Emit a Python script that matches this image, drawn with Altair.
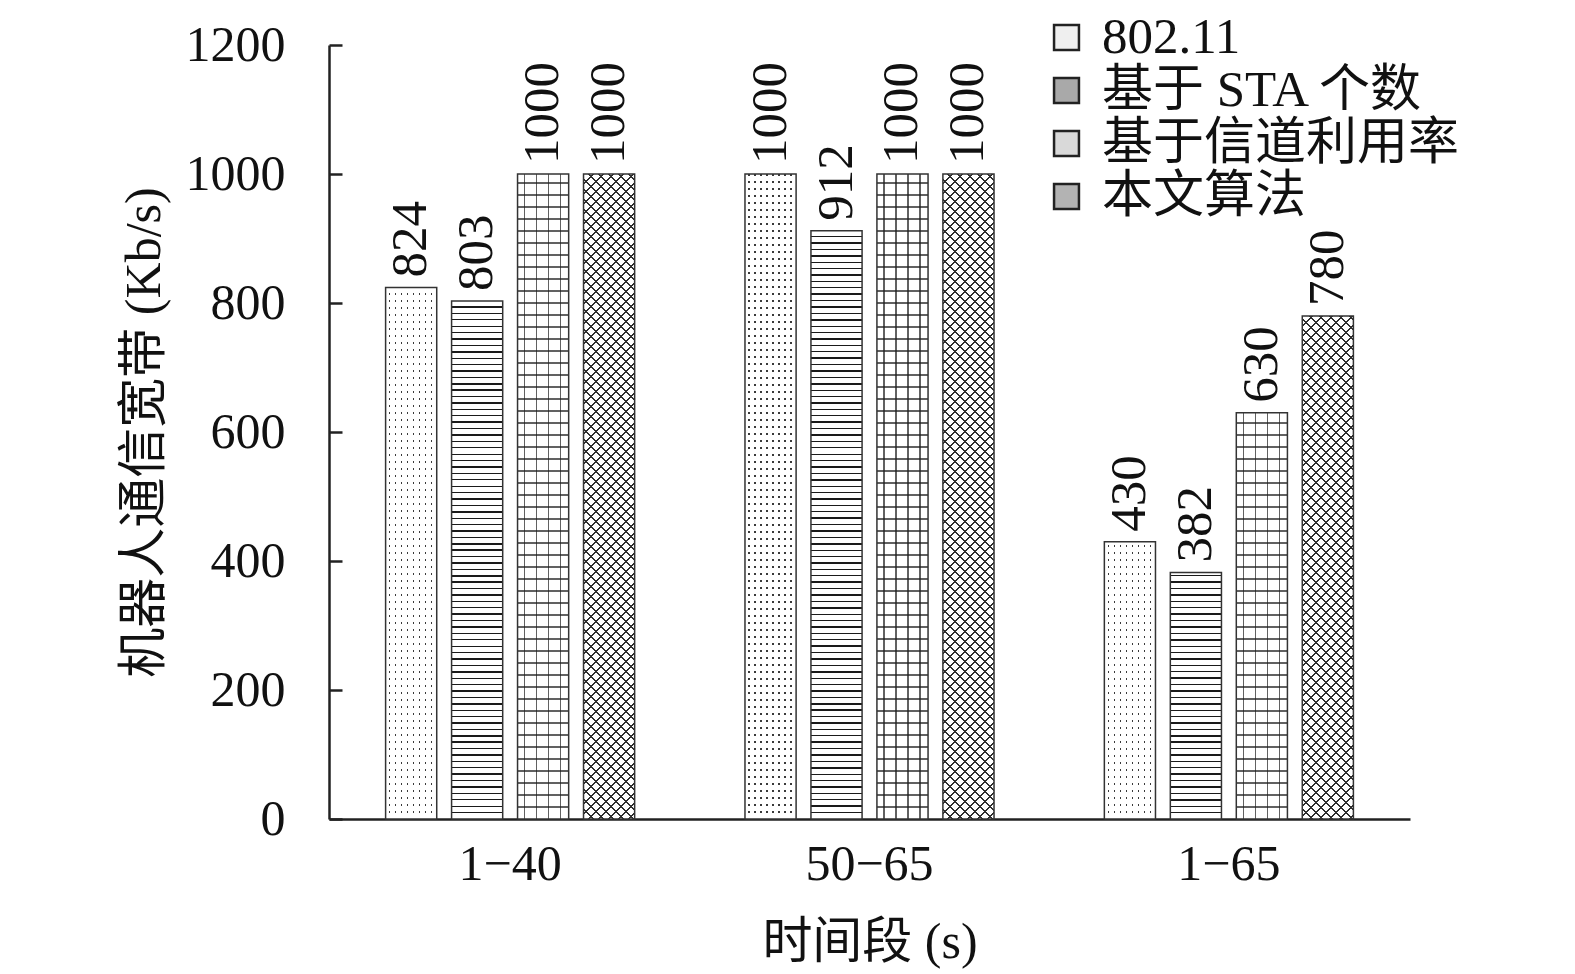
import altair as alt
import pandas as pd

groups = ["1\u221240", "50\u221265", "1\u221265"]
series = ["802.11", "基于 STA 个数", "基于信道利用率", "本文算法"]
v_80211 = [824, 1000, 430]
v_sta = [803, 912, 382]
v_chan = [1000, 1000, 630]
v_ours = [1000, 1000, 780]
y_ticks = [0, 200, 400, 600, 800, 1000, 1200]
legend_fills = ["#efefef", "#a9a9a9", "#d9d9d9", "#b3b3b3"]

rows = []
for s, vals in zip(series, [v_80211, v_sta, v_chan, v_ours]):
    for g, v in zip(groups, vals):
        rows.append({"group": g, "series": s, "value": v})
df = pd.DataFrame(rows)

FONT = "Liberation Serif, Noto Sans CJK SC"
NUMFONT = "Liberation Serif"
W, H = 1081, 774
YMAX = 1200
PI_G, PO_G, PI_S = 0.307, 0.1575, 0.225

# bar width in pixels (for pattern scaling only)
step_g = W / (len(groups) - PI_G + 2 * PO_G)
band_g = step_g * (1 - PI_G)
step_s = band_g / (len(series) - PI_S)
BW = step_s * (1 - PI_S)

CLEAR = "rgba(0,0,0,0)"


def stops_from(intervals, color, invert=False):
    on, off = (CLEAR, color) if invert else (color, CLEAR)
    st = [{"offset": 0, "color": off}]
    for a, b in sorted(intervals):
        a = max(0.0, a)
        b = min(1.0, b)
        if b <= a:
            continue
        a = round(a, 6)
        b = round(b, 6)
        st += [{"offset": a, "color": off}, {"offset": a, "color": on},
               {"offset": b, "color": on}, {"offset": b, "color": off}]
    st.append({"offset": 1, "color": off})
    return st


def hgrad(v, period, thick, color, invert=False):
    h = v / YMAX * H
    iv = []
    k = 1
    while k * period < h:
        yb = k * period
        iv.append((1 - (yb + thick / 2) / h, 1 - (yb - thick / 2) / h))
        k += 1
    return {"gradient": "linear", "x1": 0, "y1": 0, "x2": 0, "y2": 1,
            "stops": stops_from(iv, color, invert)}


def vgrad(period, thick, color, phase):
    iv = []
    x = phase
    while x < BW:
        iv.append(((x - thick / 2) / BW, (x + thick / 2) / BW))
        x += period
    return {"gradient": "linear", "x1": 0, "y1": 0, "x2": 1, "y2": 0,
            "stops": stops_from(iv, color)}


def dgrad(v, spacing, thick, color, flip):
    h = v / YMAX * H
    b = h / BW
    den = 1 + b * b
    cmax = 1 + b
    iv = []
    k = 1
    while k * spacing / BW < cmax:
        c = k * spacing / BW
        iv.append(((c - thick / (2 * BW)) / den, (c + thick / (2 * BW)) / den))
        k += 1
    if flip:
        g = {"gradient": "linear", "x1": 0, "y1": 1, "x2": 1, "y2": 1 - b}
    else:
        g = {"gradient": "linear", "x1": 0, "y1": 0, "x2": 1, "y2": b}
    g["stops"] = stops_from(iv, color)
    return g


x_enc = alt.X(
    "group:N", sort=groups,
    scale=alt.Scale(domain=groups, paddingInner=PI_G, paddingOuter=PO_G),
    axis=alt.Axis(title="时间段 (s)", ticks=False, domainWidth=2.5, domainColor="#222",
                  labelAngle=0, labelFont=NUMFONT, labelFontSize=50, labelColor="#111",
                  labelPadding=20, titleFont=FONT, titleFontSize=50, titleFontWeight="normal",
                  titleColor="#111", titlePadding=28),
)
xo_enc = alt.XOffset("series:N", sort=series,
                     scale=alt.Scale(domain=series, paddingInner=PI_S, paddingOuter=0))
y_scale = alt.Scale(domain=[0, YMAX])
y_plain = alt.Y("value:Q", scale=y_scale, axis=None)

# legend carrier (zero-height bars)
legend_layer = alt.Chart(df).transform_calculate(zero="0").mark_bar(strokeWidth=0).encode(
    x=x_enc, xOffset=xo_enc,
    y=alt.Y("zero:Q", scale=y_scale, axis=None),
    color=alt.Color("series:N", sort=series,
                    scale=alt.Scale(domain=series, range=legend_fills),
                    legend=alt.Legend(title=None, orient="none", legendX=712, legendY=-33,
                                      symbolType="square", symbolSize=620,
                                      symbolStrokeColor="#222", symbolStrokeWidth=2.5,
                                      labelFont=FONT, labelFontSize=51, labelColor="#111",
                                      labelLimit=0, labelOffset=10, rowPadding=1)),
)

base = alt.Chart(df).mark_bar(fill="white", strokeWidth=0).encode(
    x=x_enc, xOffset=xo_enc,
    y=alt.Y("value:Q", scale=y_scale,
            axis=alt.Axis(values=y_ticks, format="d", ticks=False, grid=False, domainWidth=2.5,
                          domainColor="#222", labelFont=NUMFONT, labelFontSize=50,
                          labelColor="#111", labelPadding=44,
                          title="机器人通信宽带 (Kb/s)", titleFont=FONT, titleFontSize=50,
                          titleFontWeight="normal", titleColor="#111", titlePadding=16)),
)


def overlay(fill, s, g=None):
    pred = alt.datum.series == s
    if g is not None:
        pred = pred & (alt.datum.group == g)
    return alt.Chart(df).transform_filter(pred).mark_bar(fill=fill, strokeWidth=0).encode(
        x=x_enc, xOffset=xo_enc, y=y_plain)


layers = [legend_layer, base]
# 802.11: dot stipple (dark columns masked by white rows with gaps)
layers.append(overlay(vgrad(6.0, 1.4, "#3a3a3a", 4.0), series[0]))
for g, v in zip(groups, v_80211):
    layers.append(overlay(hgrad(v, 7.0, 1.4, "#ffffff", invert=True), series[0], g))
# STA: horizontal lines
for g, v in zip(groups, v_sta):
    layers.append(overlay(hgrad(v, 6.4, 1.4, "#1a1a1a"), series[1], g))
# channel utilisation: dotted grid
for g, v in zip(groups, v_chan):
    layers.append(overlay(hgrad(v, 12.0, 1.2, "rgba(30,30,30,0.7)"), series[2], g))
layers.append(overlay(vgrad(12.0, 1.2, "rgba(30,30,30,0.7)", 7.0), series[2]))
# proposed: cross-hatch
for g, v in zip(groups, v_ours):
    layers.append(overlay(dgrad(v, 10.0, 2.1, "#2e2e2e", False), series[3], g))
    layers.append(overlay(dgrad(v, 10.0, 2.1, "#2e2e2e", True), series[3], g))

outline = alt.Chart(df).mark_bar(fill="transparent", stroke="#333", strokeWidth=1.5).encode(
    x=x_enc, xOffset=xo_enc, y=y_plain)
layers.append(outline)

labels = alt.Chart(df).mark_text(angle=270, align="left", baseline="middle", dx=10,
                                 font=NUMFONT, fontSize=51, color="#111").encode(
    x=x_enc,
    xOffset=xo_enc,
    y=alt.Y("value:Q", scale=y_scale,
            axis=alt.Axis(values=y_ticks, orient="right", offset=-W, labels=False,
                          domain=False, grid=False, ticks=True, tickSize=13, tickWidth=2.5,
                          tickColor="#222", title=None)),
    text="value:Q",
)
layers.append(labels)

chart = alt.layer(*layers).resolve_axis(y="independent").properties(
    width=W, height=H,
    background="white",
    autosize=alt.AutoSizeParams(type="none"),
    padding={"left": 321, "top": 37, "right": 150, "bottom": 150},
).configure_view(strokeWidth=0)

chart.save("out.html", embed_options={"renderer": "svg", "actions": False})
